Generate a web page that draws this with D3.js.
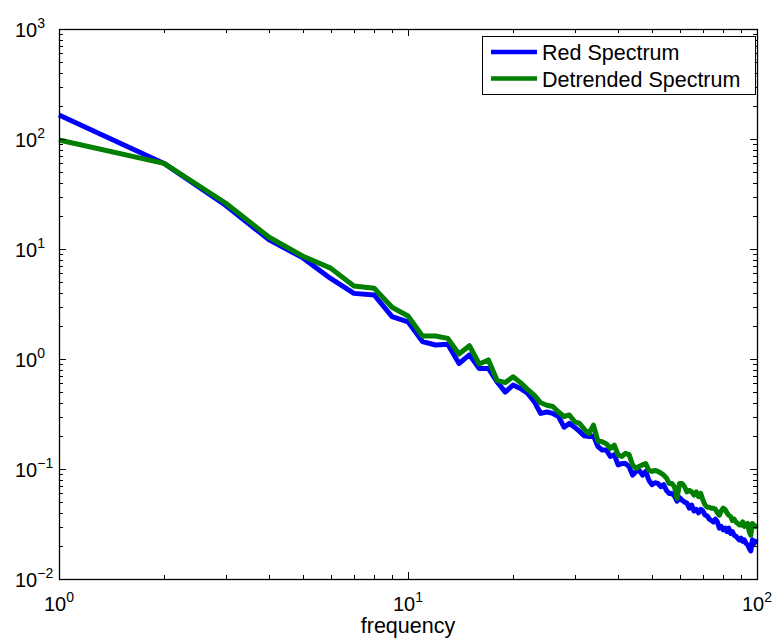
<!DOCTYPE html>
<html>
<head>
<meta charset="utf-8">
<script src="https://cdn.jsdelivr.net/npm/d3@7"></script>
<style>
  body { margin: 0; background: #fff; }
  svg text { font-family: "Liberation Sans", Arial, Helvetica, sans-serif; fill: #000; }
</style>
</head>
<body>
<div class="chart"></div>
<script>
// frequencies 1..100
const freq = [1, 2, 3, 4, 5, 6, 7, 8, 9, 10,
  11, 12, 13, 14, 15, 16, 17, 18, 19, 20,
  21, 22, 23, 24, 25, 26, 27, 28, 29, 30,
  31, 32, 33, 34, 35, 36, 37, 38, 39, 40,
  41, 42, 43, 44, 45, 46, 47, 48, 49, 50,
  51, 52, 53, 54, 55, 56, 57, 58, 59, 60,
  61, 62, 63, 64, 65, 66, 67, 68, 69, 70,
  71, 72, 73, 74, 75, 76, 77, 78, 79, 80,
  81, 82, 83, 84, 85, 86, 87, 88, 89, 90,
  91, 92, 93, 94, 95, 96, 97, 98, 99, 100];

const redSpectrum = [165, 60, 25, 12.1, 8.3, 5.4, 3.95, 3.82, 2.43, 2.18,
  1.44, 1.34, 1.36, 0.91, 1.09, 0.82, 0.82, 0.62, 0.50, 0.58,
  0.54, 0.49, 0.41, 0.32, 0.33, 0.32, 0.30, 0.24, 0.26, 0.24,
  0.22, 0.20, 0.197, 0.20, 0.16, 0.149, 0.149, 0.13, 0.135, 0.109,
  0.112, 0.112, 0.105, 0.088, 0.095, 0.097, 0.088, 0.095, 0.079, 0.072,
  0.075, 0.074, 0.069, 0.072, 0.064, 0.060, 0.060, 0.057, 0.051, 0.055,
  0.052, 0.050, 0.049, 0.044, 0.047, 0.0415, 0.043, 0.040, 0.043, 0.0415,
  0.038, 0.0375, 0.035, 0.034, 0.033, 0.035, 0.033, 0.029, 0.030, 0.028,
  0.029, 0.027, 0.029, 0.026, 0.027, 0.025, 0.0245, 0.0235, 0.0227, 0.0235,
  0.022, 0.0227, 0.021, 0.0205, 0.019, 0.018, 0.0227, 0.021, 0.022, 0.0215];

const detrendedSpectrum = [98, 60, 26.2, 12.8, 8.6, 6.7, 4.6, 4.4, 2.95, 2.46,
  1.62, 1.62, 1.54, 1.11, 1.32, 0.90, 0.98, 0.64, 0.61, 0.69,
  0.61, 0.53, 0.47, 0.40, 0.38, 0.37, 0.33, 0.30, 0.31, 0.27,
  0.26, 0.23, 0.21, 0.25, 0.18, 0.177, 0.17, 0.154, 0.165, 0.134,
  0.13, 0.139, 0.135, 0.109, 0.101, 0.106, 0.109, 0.112, 0.097, 0.095,
  0.097, 0.095, 0.092, 0.088, 0.083, 0.074, 0.074, 0.069, 0.054, 0.074,
  0.074, 0.069, 0.062, 0.064, 0.062, 0.058, 0.062, 0.056, 0.060, 0.052,
  0.047, 0.045, 0.045, 0.044, 0.044, 0.043, 0.040, 0.038, 0.0415, 0.044,
  0.043, 0.040, 0.038, 0.037, 0.034, 0.035, 0.033, 0.032, 0.031, 0.031,
  0.033, 0.030, 0.031, 0.032, 0.027, 0.025, 0.032, 0.031, 0.030, 0.031];

const xTickExp = [0, 1, 2];
const yTickExp = [-2, -1, 0, 1, 2, 3];
const seriesNames = ["Red Spectrum", "Detrended Spectrum"];
const seriesColors = ["#0000ff", "#007f00"];
const xLabel = "frequency";

const width = 777, height = 642;
const plot = { left: 59, right: 757, top: 29, bottom: 579 };

const svg = d3.select("div.chart")
  .append("svg")
  .attr("width", width)
  .attr("height", height);

const x = d3.scaleLog().domain([1, 100]).range([plot.left, plot.right]);
const y = d3.scaleLog().domain([0.01, 1000]).range([plot.bottom, plot.top]);

// minor + major tick values
const xMinor = [], yMinor = [];
for (let e = 0; e < 2; e++) for (let m = 2; m <= 9; m++) xMinor.push(m * Math.pow(10, e));
for (let e = -2; e < 3; e++) for (let m = 2; m <= 9; m++) yMinor.push(m * Math.pow(10, e));
const xMajor = xTickExp.map(e => Math.pow(10, e));
const yMajor = yTickExp.map(e => Math.pow(10, e));

// data lines
const line = d3.line()
  .x(function (d) { return x(d[0]); })
  .y(function (d) { return y(d[1]); });

[redSpectrum, detrendedSpectrum].forEach(function (vals, i) {
  svg.append("path")
    .datum(freq.map(function (f, j) { return [f, vals[j]]; }))
    .attr("d", line)
    .attr("fill", "none")
    .attr("stroke", seriesColors[i])
    .attr("stroke-width", 5)
    .attr("stroke-linejoin", "round");
});

// axes, ticks pointing inward, box on
const axisG = svg.append("g").attr("stroke", "#000").attr("stroke-width", 1);

function ticks(vals, len, scale, horizontal) {
  vals.forEach(function (v) {
    const p = Math.round(scale(v)) + 0.5;
    if (horizontal) {
      axisG.append("line").attr("x1", p).attr("x2", p).attr("y1", plot.bottom).attr("y2", plot.bottom - len);
      axisG.append("line").attr("x1", p).attr("x2", p).attr("y1", plot.top).attr("y2", plot.top + len);
    } else {
      axisG.append("line").attr("y1", p).attr("y2", p).attr("x1", plot.left).attr("x2", plot.left + len);
      axisG.append("line").attr("y1", p).attr("y2", p).attr("x1", plot.right).attr("x2", plot.right - len);
    }
  });
}
ticks(xMinor, 4, x, true);
ticks(xMajor, 7, x, true);
ticks(yMinor, 4, y, false);
ticks(yMajor, 7, y, false);

axisG.append("rect")
  .attr("x", plot.left + 0.5)
  .attr("y", plot.top + 0.5)
  .attr("width", plot.right - plot.left)
  .attr("height", plot.bottom - plot.top)
  .attr("fill", "none")
  .attr("stroke-width", 1.3);

// tick labels 10^n
const tickFont = 20, supFont = 14;

xTickExp.forEach(function (e) {
  const t = svg.append("text")
    .attr("x", x(Math.pow(10, e)))
    .attr("y", 611)
    .attr("text-anchor", "middle")
    .style("font-size", tickFont + "px");
  t.append("tspan").text("10");
  t.append("tspan").attr("dy", -9).style("font-size", supFont + "px").text(e);
});

yTickExp.forEach(function (e) {
  const t = svg.append("text")
    .attr("x", 15)
    .attr("y", y(Math.pow(10, e)) + 8)
    .style("font-size", tickFont + "px");
  t.append("tspan").text("10");
  t.append("tspan").attr("dy", -9).style("font-size", supFont + "px").text(e < 0 ? "\u2212" + (-e) : e);
});

svg.append("text")
  .attr("x", (plot.left + plot.right) / 2)
  .attr("y", 633)
  .attr("text-anchor", "middle")
  .style("font-size", "21.5px")
  .text(xLabel);

// legend
const legend = svg.append("g");
legend.append("rect")
  .attr("x", 482.5).attr("y", 36.5)
  .attr("width", 273).attr("height", 58)
  .attr("fill", "#fff")
  .attr("stroke", "#000")
  .attr("stroke-width", 1);

seriesNames.forEach(function (name, i) {
  const ly = 52 + i * 26.5;
  legend.append("line")
    .attr("x1", 491).attr("x2", 537)
    .attr("y1", ly).attr("y2", ly)
    .attr("stroke", seriesColors[i])
    .attr("stroke-width", 4.5);
  legend.append("text")
    .attr("x", 542)
    .attr("y", ly + 8)
    .style("font-size", "21.5px")
    .text(name);
});
</script>
</body>
</html>
